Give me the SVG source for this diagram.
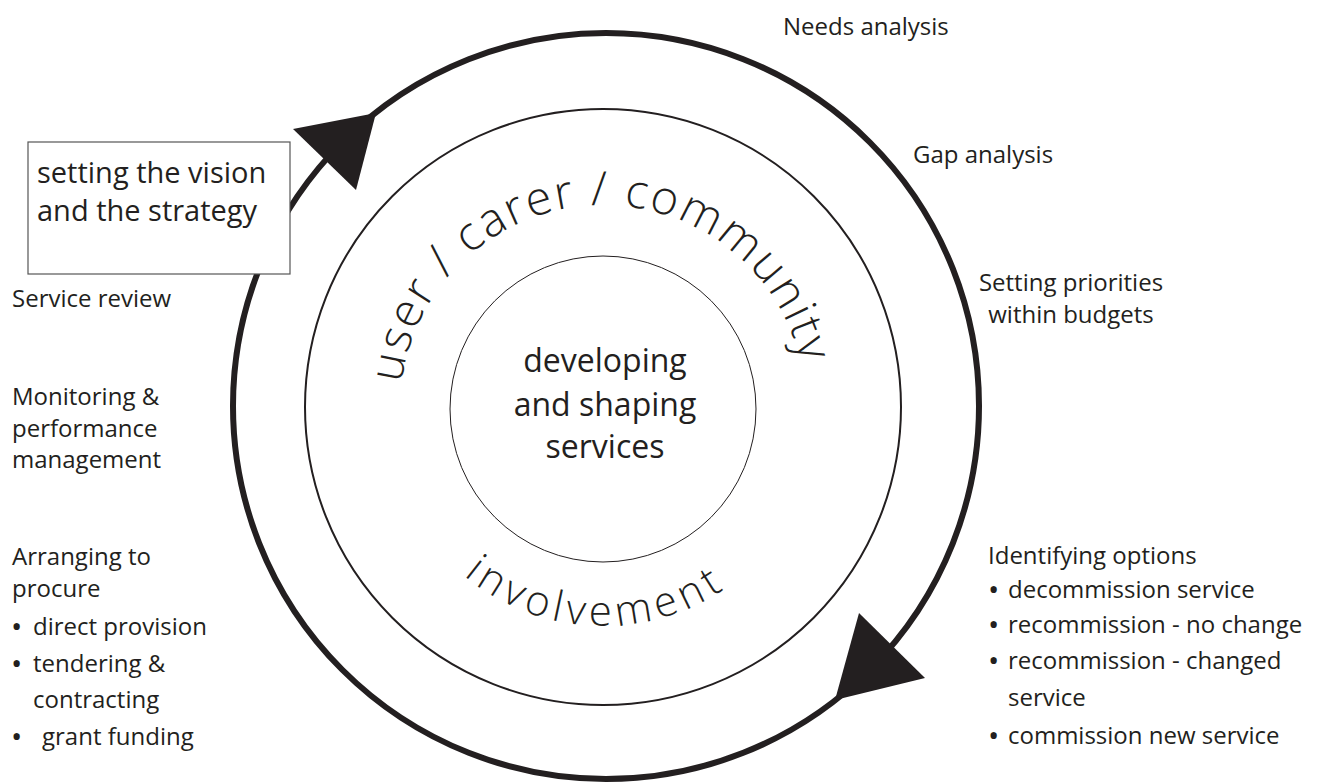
<svg xmlns="http://www.w3.org/2000/svg" width="1326" height="782" viewBox="0 0 1326 782">
  <style>
    .lbl { font-family: "Open Sans", "Liberation Sans", sans-serif; font-size: 24px; fill: #231f20; }
    .bul { font-size: 30px; }
    .box-txt { font-family: "Open Sans", "Liberation Sans", sans-serif; font-size: 29px; fill: #231f20; }
    .core-txt { font-family: "Open Sans", "Liberation Sans", sans-serif; font-size: 32px; fill: #231f20; text-anchor: middle; }
    .ring-txt { font-family: "Open Sans", "Liberation Sans", sans-serif; font-weight: 300; fill: #231f20; }
    .cycle { fill: none; stroke: #231f20; stroke-width: 6; }
    .head { fill: #231f20; stroke: none; }
    .ring { fill: none; stroke: #231f20; }
  </style>
  <defs>
    <!-- baseline for the upper ring label, running clockwise over the top -->
    <path id="arcTop" d="M 401.5 383.3 A 203 203 0 0 1 805.2 390.3"/>
    <!-- baseline for the lower ring label, running left to right under the core -->
    <path id="arcBottom" d="M 462.9 575 A 218 218 0 0 0 743.1 575"/>
  </defs>

  <rect width="1326" height="782" fill="#ffffff"/>

  <!-- commissioning cycle with its direction arrows -->
  <g id="connectors">
    <circle class="cycle" cx="606" cy="406" r="373"/>
    <polygon class="head" points="293,129 376,113 356,190"/>
    <polygon class="head" points="859,613 925,678 835,700"/>
  </g>

  <g id="node-vision">
    <rect x="28" y="142" width="262" height="132" fill="#ffffff" stroke="#555555" stroke-width="1.2"/>
    <text class="box-txt" x="37" y="183">setting the vision</text>
    <text class="box-txt" x="37" y="221">and the strategy</text>
  </g>

  <g id="node-involvement">
    <circle class="ring" cx="603" cy="407" r="298" stroke-width="2"/>
    <text class="ring-txt" font-size="47" letter-spacing="2"><textPath href="#arcTop">user / carer / community</textPath></text>
    <text class="ring-txt" font-size="42" letter-spacing="5" text-anchor="middle"><textPath href="#arcBottom" startOffset="143">involvement</textPath></text>
  </g>

  <g id="node-core">
    <circle class="ring" cx="603" cy="409" r="153" stroke-width="1"/>
    <text class="core-txt" x="605" y="372">developing</text>
    <text class="core-txt" x="605" y="416">and shaping</text>
    <text class="core-txt" x="605" y="458">services</text>
  </g>

  <g id="node-needs">
    <text class="lbl" x="783" y="35">Needs analysis</text>
  </g>
  <g id="node-gap">
    <text class="lbl" x="913" y="163">Gap analysis</text>
  </g>
  <g id="node-priorities">
    <text class="lbl" x="1071" y="291" text-anchor="middle">Setting priorities</text>
    <text class="lbl" x="1071" y="323" text-anchor="middle">within budgets</text>
  </g>

  <g id="node-options">
    <text class="lbl" x="988" y="564">Identifying options</text>
    <text class="lbl" y="598"><tspan class="bul" x="988" dy="2">•</tspan><tspan x="1008" dy="-2">decommission service</tspan></text>
    <text class="lbl" y="633"><tspan class="bul" x="988" dy="2">•</tspan><tspan x="1008" dy="-2">recommission - no change</tspan></text>
    <text class="lbl" y="669"><tspan class="bul" x="988" dy="2">•</tspan><tspan x="1008" dy="-2">recommission - changed</tspan></text>
    <text class="lbl" x="1008" y="706">service</text>
    <text class="lbl" y="744"><tspan class="bul" x="988" dy="2">•</tspan><tspan x="1008" dy="-2">commission new service</tspan></text>
  </g>

  <g id="node-review">
    <text class="lbl" x="12" y="307">Service review</text>
  </g>

  <g id="node-monitoring">
    <text class="lbl" x="12" y="405">Monitoring &amp;</text>
    <text class="lbl" x="12" y="437">performance</text>
    <text class="lbl" x="12" y="468">management</text>
  </g>

  <g id="node-procure">
    <text class="lbl" x="12" y="565">Arranging to</text>
    <text class="lbl" x="12" y="597">procure</text>
    <text class="lbl" y="635"><tspan class="bul" x="11" dy="2">•</tspan><tspan x="33" dy="-2">direct provision</tspan></text>
    <text class="lbl" y="672"><tspan class="bul" x="11" dy="2">•</tspan><tspan x="33" dy="-2">tendering &amp;</tspan></text>
    <text class="lbl" x="33" y="708">contracting</text>
    <text class="lbl" y="745"><tspan class="bul" x="11" dy="2">•</tspan><tspan x="42" dy="-2">grant funding</tspan></text>
  </g>
</svg>
